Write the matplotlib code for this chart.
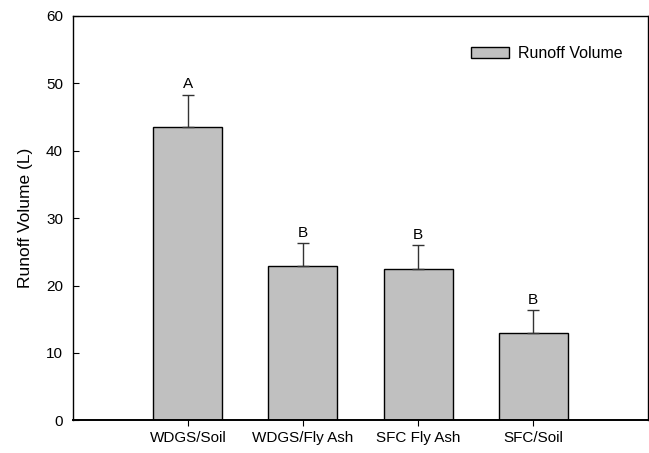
import numpy as np
import matplotlib.pyplot as plt

plt.rcParams['font.family'] = ['Liberation Sans', 'DejaVu Sans']

# data
treatments = ['WDGS/Soil', 'WDGS/Fly Ash', 'SFC Fly Ash', 'SFC/Soil']
runoff_vol = [43.5, 22.85, 22.5, 13.0]
runoff_err = [4.8, 3.4, 3.45, 3.3]
sig_letters = ['A', 'B', 'B', 'B']

fig = plt.figure(figsize=(6.49, 4.53), dpi=100)
ax = fig.add_axes([0.112, 0.0722, 0.887, 0.8925])

x = np.arange(1, len(treatments) + 1)
ax.bar(x, runoff_vol, width=0.6, color='#c0c0c0', edgecolor='black',
       linewidth=1.0, label='Runoff Volume', zorder=2)
ax.errorbar(x, runoff_vol, yerr=[np.zeros(len(x)), runoff_err], fmt='none',
            ecolor='#333333', elinewidth=1.0, capsize=4.3, capthick=1.0, zorder=3)

for xi, v, e, s in zip(x, runoff_vol, runoff_err, sig_letters):
    ax.annotate(s, (xi, v + e), xytext=(0, 2.5), textcoords='offset points',
                ha='center', va='bottom', fontsize=11)

ax.set_xlim(0, 5)
ax.set_ylim(0, 60)
ax.set_xticks(x)
ax.set_xticklabels(treatments, fontsize=11)
ax.set_yticks(np.arange(0, 61, 10))
ax.tick_params(axis='y', direction='in', length=4.5, pad=7, labelsize=11)
ax.tick_params(axis='x', direction='out', length=4, pad=4)
ax.set_ylabel('Runoff Volume (L)', fontsize=12.5, labelpad=9)

for sp in ax.spines.values():
    sp.set_linewidth(1.0)
ax.spines['bottom'].set_linewidth(1.4)

ax.legend(loc='upper left', bbox_to_anchor=(0.692, 0.925), frameon=False,
          fontsize=11.5, handlelength=2.36, handleheight=0.73, handletextpad=0.58,
          borderpad=0, borderaxespad=0)

fig.savefig('out.png', dpi=100)
